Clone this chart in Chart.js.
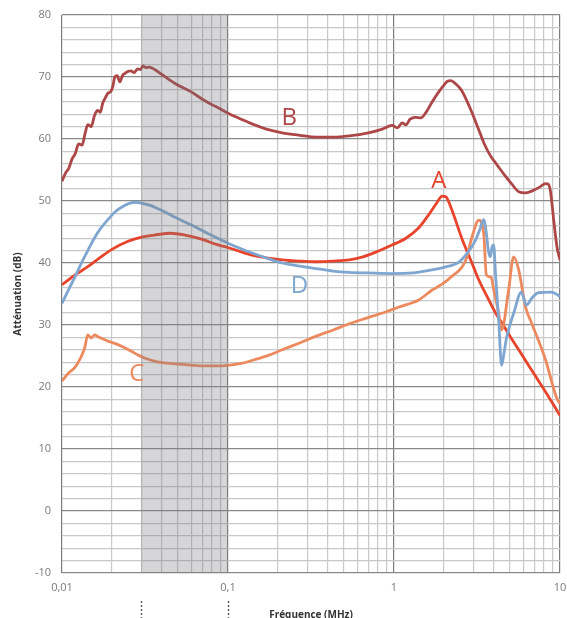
<!DOCTYPE html>
<html>
<head>
<meta charset="utf-8">
<script src="https://cdn.jsdelivr.net/npm/chart.js@4"></script>
<style>
  html,body{margin:0;padding:0;background:#fff;}
  #wrap{width:567px;height:618px;}
</style>
</head>
<body>
<div id="wrap"><canvas id="c" width="567" height="618"></canvas></div>
<script>
// ---- Data (frequency in MHz, attenuation in dB) ----
const freqA = [0.01,0.012,0.0143,0.017,0.02,0.025,0.0307,0.036,0.045,0.055,0.07,0.085,0.1,0.12,0.144,0.175,0.212,0.27,0.34,0.43,0.537,0.65,0.8,0.973,1.18,1.4,1.6,1.8,1.95,2.05,2.2,2.56,3.0,3.24,3.7,4.1,4.5,5.0,5.64,6.5,7.5,8.5,10];
const attA  = [36.5,38.1,39.4,40.9,42.2,43.5,44.2,44.5,44.8,44.5,43.8,43.0,42.5,41.8,41.2,40.8,40.5,40.3,40.2,40.3,40.5,41.0,41.9,42.9,44.0,45.6,47.6,49.6,50.8,50.7,49.0,44.0,39.5,37.3,34.2,31.9,30.2,28.2,26.0,23.4,20.8,18.5,15.4];

const freqB = [0.01,0.0105,0.011,0.0115,0.012,0.0126,0.0132,0.0138,0.0143,0.015,0.0157,0.0164,0.017,0.0176,0.0183,0.0189,0.0196,0.0202,0.0208,0.0215,0.0223,0.0232,0.024,0.0249,0.026,0.0272,0.0285,0.0297,0.0307,0.032,0.0335,0.0362,0.04,0.0477,0.06,0.0722,0.085,0.0993,0.12,0.144,0.175,0.212,0.27,0.34,0.43,0.537,0.7,0.85,0.973,1.05,1.12,1.18,1.25,1.35,1.45,1.56,1.7,1.86,2.0,2.1,2.2,2.35,2.56,2.85,3.24,3.5,3.83,4.1,4.6,5.1,5.64,6.2,6.75,7.5,8.18,8.5,8.77,9.2,9.6,10];
const attB  = [53.2,54.5,55.3,56.8,57.6,59.2,59.0,61.0,62.3,62.0,63.8,64.6,64.3,65.8,66.7,67.4,67.6,68.4,70.0,70.2,69.2,70.3,70.6,70.9,71.0,70.7,71.3,71.2,71.8,71.5,71.6,71.2,70.4,69.0,67.6,66.2,65.2,64.2,63.2,62.3,61.5,61.0,60.6,60.3,60.3,60.5,61.0,61.6,62.2,61.8,62.6,62.3,63.2,63.5,63.4,64.3,66.0,67.6,68.7,69.3,69.4,68.9,67.8,65.2,61.5,59.2,57.2,56.1,54.3,52.8,51.5,51.3,51.6,52.2,52.8,52.7,51.5,46.5,42.5,40.5];

const freqC = [0.01,0.011,0.012,0.013,0.0137,0.0143,0.015,0.0157,0.0165,0.0175,0.0189,0.021,0.0235,0.026,0.029,0.032,0.037,0.045,0.055,0.07,0.085,0.1,0.12,0.144,0.175,0.212,0.27,0.34,0.43,0.537,0.7,0.89,1.07,1.4,1.69,2.0,2.2,2.56,2.71,2.95,3.24,3.47,3.6,3.84,4.0,4.27,4.45,4.9,5.26,5.64,6.2,6.75,8.18,9.5,10];
const attC  = [21.0,22.3,23.2,24.8,26.3,28.4,27.9,28.4,28.1,27.8,27.4,27.0,26.4,25.8,25.1,24.6,24.1,23.8,23.6,23.4,23.4,23.5,23.8,24.4,25.1,26.0,27.1,28.2,29.2,30.2,31.2,32.1,32.9,34.0,35.6,36.8,37.7,39.3,40.5,44.2,46.9,44.8,38.1,37.7,35.5,31.9,29.2,35.6,41.0,38.9,32.9,30.3,24.4,18.4,17.3];

const freqD = [0.01,0.011,0.012,0.0132,0.0143,0.0155,0.017,0.0189,0.021,0.0235,0.026,0.028,0.0307,0.034,0.0362,0.042,0.0477,0.055,0.065,0.075,0.09,0.1,0.12,0.144,0.175,0.212,0.27,0.34,0.43,0.537,0.7,0.973,1.3,1.69,2.0,2.47,2.8,3.1,3.3,3.47,3.6,3.7,3.8,3.9,3.98,4.1,4.27,4.45,4.6,4.77,5.26,5.85,6.27,6.8,7.4,8.9,10];
const attD  = [33.5,35.8,37.8,40.2,42.0,43.8,45.5,47.0,48.3,49.2,49.7,49.8,49.6,49.3,49.0,48.2,47.4,46.6,45.7,44.8,43.8,43.2,42.3,41.5,40.7,40.0,39.5,39.1,38.7,38.5,38.4,38.3,38.4,38.9,39.3,40.2,41.8,43.7,45.5,47.0,44.8,42.0,41.0,42.6,42.9,37.7,30.8,23.5,25.5,28.0,31.9,35.3,33.2,34.4,35.2,35.3,34.6];

const seriesNames = ['A','B','C','D'];
const seriesColors = ['#e8442c','#ad4646','#ec8a5e','#7ea6d0'];

const xTickValues = [0.01,0.1,1,10];
const xTickLabels = ['0,01','0,1','1','10'];
const yMin = -10, yMax = 80, yStep = 2, yLabelStep = 10;

const shadedBand = [0.03, 0.1];
const curveLabels = [
  {text:'B', x:0.234, y:63.4, color:'#ad4646'},
  {text:'A', x:1.86,  y:53.2, color:'#e8442c'},
  {text:'D', x:0.269, y:36.3, color:'#7ea6d0'},
  {text:'C', x:0.0282,y:22.1, color:'#ec8a5e'}
];

// ---- Build ----
function pts(f, a){ return f.map((v,i)=>({x:v, y:a[i]})); }
const allSeries = {A:[freqA,attA], B:[freqB,attB], C:[freqC,attC], D:[freqD,attD]};

const datasets = ['B','D','C','A'].map(n=>{
  const idx = seriesNames.indexOf(n);
  return {
    label:n,
    data:pts(allSeries[n][0], allSeries[n][1]),
    borderColor:seriesColors[idx],
    borderWidth:2.8,
    pointRadius:0,
    fill:false,
    cubicInterpolationMode:'monotone'
  };
});

const logGridVals = [];
for (let d=-2; d<1; d++) for (let m=1; m<10; m++) logGridVals.push(+(m*Math.pow(10,d)).toPrecision(6));
logGridVals.push(10);

function isDecade(v){ const l=Math.log10(v); return Math.abs(l-Math.round(l))<1e-6; }

const overlayPlugin = {
  id:'overlay',
  afterDatasetsDraw(chart){
    const {ctx, chartArea:ca, scales:{x,y}} = chart;
    ctx.save();
    const x0 = x.getPixelForValue(shadedBand[0]), x1 = x.getPixelForValue(shadedBand[1]);
    ctx.fillStyle = 'rgba(120,120,125,0.30)';
    ctx.fillRect(x0, ca.top, x1-x0, ca.bottom-ca.top);
    ctx.font = '24px "Open Sans", sans-serif';
    ctx.textAlign = 'center';
    ctx.textBaseline = 'middle';
    curveLabels.forEach(l=>{
      ctx.fillStyle = l.color;
      ctx.fillText(l.text, x.getPixelForValue(l.x), y.getPixelForValue(l.y));
    });
    ctx.strokeStyle = '#555';
    ctx.lineWidth = 1.4;
    ctx.setLineDash([2,2]);
    shadedBand.forEach(v=>{
      const px = Math.round(x.getPixelForValue(v))+0.5;
      ctx.beginPath();
      ctx.moveTo(px, ca.bottom+28);
      ctx.lineTo(px, chart.height);
      ctx.stroke();
    });
    ctx.restore();
  }
};

new Chart(document.getElementById('c'), {
  type:'line',
  data:{datasets},
  plugins:[overlayPlugin],
  options:{
    responsive:false,
    animation:false,
    devicePixelRatio:1,
    layout:{padding:{top:15, right:7, left:0, bottom:0}},
    plugins:{legend:{display:false}, tooltip:{enabled:false}},
    scales:{
      x:{
        type:'logarithmic',
        min:0.01, max:10,
        afterBuildTicks(s){ s.ticks = logGridVals.map(v=>({value:v})); },
        afterFit(s){ s.height = 45; s.paddingLeft = 0; s.paddingRight = 0; },
        border:{display:false},
        grid:{
          drawTicks:false,
          lineWidth:1.2,
          color:ctx=> (ctx.tick && isDecade(ctx.tick.value)) ? '#7c7c7c' : '#c8c8c8'
        },
        ticks:{
          autoSkip:false, maxRotation:0, padding:8,
          color:'#7a7a7a',
          font:{family:'"Open Sans", sans-serif', size:11},
          callback(v){
            for (let i=0;i<xTickValues.length;i++) if (Math.abs(v-xTickValues[i])/xTickValues[i]<1e-6) return xTickLabels[i];
            return '';
          }
        },
        title:{
          display:true, text:'Fréquence (MHz)',
          color:'#333',
          font:{family:'"Open Sans", sans-serif', size:10, weight:'bold'},
          padding:{top:0,bottom:-3}
        }
      },
      y:{
        type:'linear',
        min:yMin, max:yMax,
        afterFit(s){ s.width = 62; s.paddingTop = 0; s.paddingBottom = 0; },
        border:{display:false},
        grid:{
          drawTicks:false,
          lineWidth:1.2,
          color:ctx=> (ctx.tick && ctx.tick.value % yLabelStep === 0) ? '#8a8a8a' : '#c8c8c8'
        },
        ticks:{
          stepSize:yStep, autoSkip:false, padding:11,
          color:'#7a7a7a',
          font:{family:'"Open Sans", sans-serif', size:11},
          callback(v){ return v % yLabelStep === 0 ? String(v) : ''; }
        },
        title:{
          display:true, text:'Atténuation (dB)',
          color:'#333',
          font:{family:'"Open Sans", sans-serif', size:10, weight:'bold'},
          padding:{top:12,bottom:0}
        }
      }
    }
  }
});
</script>
</body>
</html>
